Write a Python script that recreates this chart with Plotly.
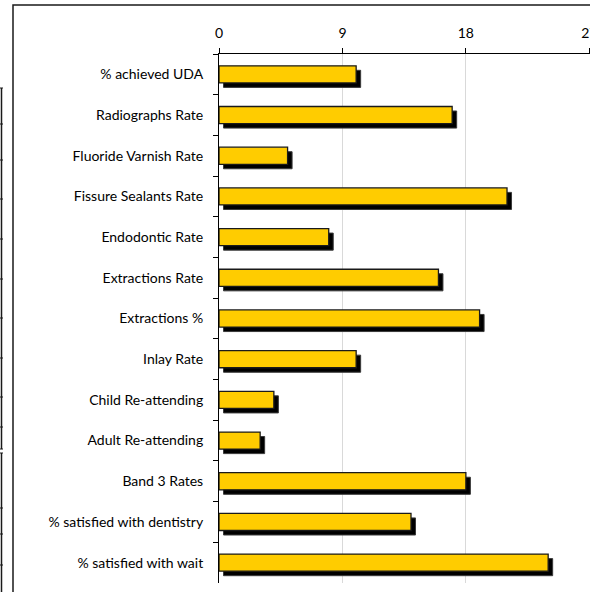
import plotly.graph_objects as go

categories = [
    "% achieved UDA",
    "Radiographs Rate",
    "Fluoride Varnish Rate",
    "Fissure Sealants Rate",
    "Endodontic Rate",
    "Extractions Rate",
    "Extractions %",
    "Inlay Rate",
    "Child Re-attending",
    "Adult Re-attending",
    "Band 3 Rates",
    "% satisfied with dentistry",
    "% satisfied with wait",
]
values = [10, 17, 5, 21, 8, 16, 19, 10, 4, 3, 18, 14, 24]
tick_vals = [0, 9, 18, 27]
tick_text = ["0", "9", "18", "27"]

W, H = 590, 592
L, T, B = 219, 54, 9
R = 0
plot_w = W - L - R
plot_h = H - T - B
x_max = 27.05
px_per_unit = plot_w / x_max
band_px = plot_h / len(categories)

bar_w = 0.42
shadow_dx = 4.5 / px_per_unit
shadow_dy = 4.5 / band_px

fig = go.Figure()
fig.add_trace(go.Bar(
    y=categories, x=values, orientation="h",
    base=shadow_dx, width=bar_w, offset=-bar_w / 2 + shadow_dy,
    marker=dict(color="#000000", line=dict(color="#3a3a3a", width=1)),
    hoverinfo="skip", showlegend=False,
))
fig.add_trace(go.Bar(
    y=categories, x=values, orientation="h",
    width=bar_w, offset=-bar_w / 2,
    marker=dict(color="#FFCC00", line=dict(color="#1a1a1a", width=1.3)),
    showlegend=False,
))

def px_to_paper_x(px):
    return (px - L) / plot_w

def py_to_paper_y(py):
    return 1 - (py - T) / plot_h

shapes = []
shapes.append(dict(type="rect", xref="paper", yref="paper",
                   x0=px_to_paper_x(13), x1=px_to_paper_x(600),
                   y0=py_to_paper_y(605), y1=py_to_paper_y(5),
                   line=dict(color="#1a1a1a", width=1.5), layer="above"))
for (a, b) in [(88, 449), (453, 600)]:
    shapes.append(dict(type="line", xref="paper", yref="paper",
                       x0=px_to_paper_x(1.5), x1=px_to_paper_x(1.5),
                       y0=py_to_paper_y(a), y1=py_to_paper_y(b),
                       line=dict(color="#1a1a1a", width=1.5)))
for ty in [88, 124, 160, 199, 239, 279, 318, 358, 397, 427, 449, 453, 508, 534, 565]:
    shapes.append(dict(type="line", xref="paper", yref="paper",
                       x0=px_to_paper_x(0), x1=px_to_paper_x(3),
                       y0=py_to_paper_y(ty), y1=py_to_paper_y(ty),
                       line=dict(color="#1a1a1a", width=1)))

fig.update_layout(
    width=W, height=H,
    margin=dict(l=L, r=R, t=T, b=B, pad=0, autoexpand=False),
    paper_bgcolor="white", plot_bgcolor="white",
    barmode="overlay", bargap=0.58,
    font=dict(family="Lato, Carlito, Calibri, sans-serif", size=14, color="#000000"),
    shapes=shapes,
    xaxis=dict(
        side="top", range=[0, x_max], tickvals=tick_vals, ticktext=tick_text,
        showgrid=True, gridcolor="#d9d9d9", gridwidth=1,
        showline=True, linecolor="#000000", linewidth=1,
        ticks="outside", ticklen=5, tickcolor="#000000",
        zeroline=False, ticklabelstandoff=4, ticklabeloverflow="allow",
        automargin=False,
        tickfont=dict(size=14),
    ),
    yaxis=dict(
        autorange="reversed", type="category", automargin=False,
        showline=True, linecolor="#000000", linewidth=1,
        ticks="outside", ticklen=5, tickcolor="#000000", tickson="boundaries",
        showgrid=False, zeroline=False, ticklabelstandoff=12,
    ),
)

fig.write_html("out.html")
